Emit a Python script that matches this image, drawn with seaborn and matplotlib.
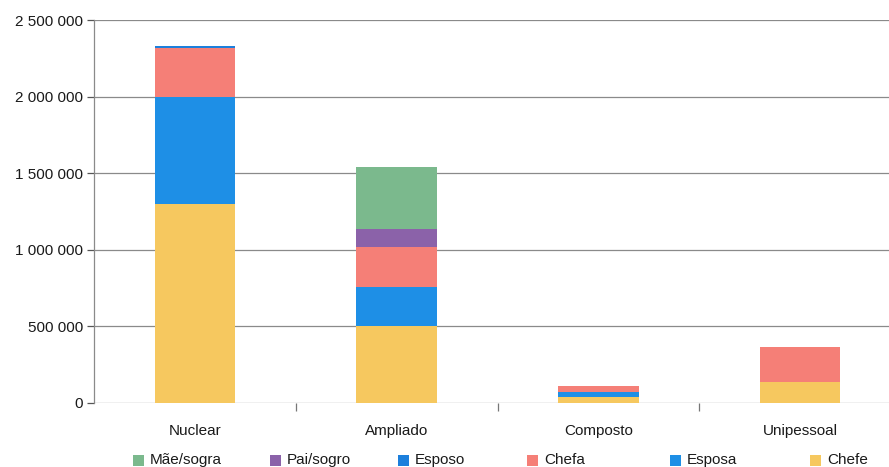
import matplotlib
matplotlib.use("Agg")
import matplotlib.pyplot as plt
import matplotlib.ticker as mticker
from matplotlib.patches import Rectangle
import numpy as np
import seaborn as sns

# Household types and the members counted in each (persons)
categories = ["Nuclear", "Ampliado", "Composto", "Unipessoal"]

chefe = [1300000, 503000, 41000, 139000]
esposa = [695000, 256000, 33000, 0]
chefa = [322000, 257000, 37000, 229000]
esposo = [13000, 0, 0, 0]
pai_sogro = [0, 120000, 0, 0]
mae_sogra = [0, 406000, 0, 0]

series_names = ["Chefe", "Esposa", "Chefa", "Esposo", "Pai/sogro", "Mãe/sogra"]
series_values = [chefe, esposa, chefa, esposo, pai_sogro, mae_sogra]
series_colors = ["#f6c85f", "#1e8fe6", "#f57f77", "#1c7fdc", "#8b62a9", "#7bb98d"]

sns.set_theme(style="white")
plt.rcParams["font.family"] = ["Liberation Sans", "DejaVu Sans"]

W, H = 889, 467
fig = plt.figure(figsize=(W / 100, H / 100), dpi=100)
# the plotting area runs slightly past the right edge of the figure
ax = fig.add_axes([94 / W, 1 - 403 / H, 807 / W, 383 / H])

bottom = np.zeros(len(categories))
for name, vals, col in zip(series_names, series_values, series_colors):
    vals = np.array(vals, dtype=float)
    sns.barplot(x=categories, y=vals, bottom=bottom, color=col, width=0.4,
                ax=ax, saturation=1, linewidth=0, zorder=3)
    bottom += vals

ax.set_xlim(-0.5, 3.5)
ax.set_ylim(0, 2500000)
ax.set_yticks(np.arange(0, 2500001, 500000))
ax.yaxis.set_major_formatter(
    mticker.FuncFormatter(lambda v, p: f"{int(v):,}".replace(",", " ")))
ax.grid(axis="y", color="#8a8a8a", linewidth=0.9, zorder=0)
ax.set_axisbelow(True)

for side in ["top", "right", "bottom"]:
    ax.spines[side].set_visible(False)
ax.spines["left"].set_color("#8a8a8a")
ax.spines["left"].set_linewidth(0.9)

ax.tick_params(axis="y", which="major", left=True, length=5, width=0.9,
               color="#555555", labelsize=11, labelcolor="#1a1a1a", pad=3)
ax.set_xticks([0, 1, 2, 3])
ax.set_xticklabels(categories)
ax.tick_params(axis="x", which="major", bottom=False, labelsize=11,
               labelcolor="#1a1a1a", pad=9)
ax.set_xticks([0.5, 1.5, 2.5], minor=True)
ax.tick_params(axis="x", which="minor", bottom=True, length=6, width=0.9,
               color="#777777")
ax.set_xlabel("")
ax.set_ylabel("")

# legend along the bottom edge, newest relation first
legend_names = series_names[::-1]
legend_colors = series_colors[::-1]
legend_x = [133, 270, 398, 527, 670, 810]
legend_y = 460
sq = 11
for x, name, col in zip(legend_x, legend_names, legend_colors):
    fig.patches.append(Rectangle((x / W, 1 - (legend_y + sq / 2) / H), sq / W, sq / H,
                                 transform=fig.transFigure, facecolor=col,
                                 edgecolor="none"))
    fig.text((x + sq + 6) / W, 1 - legend_y / H, name, fontsize=11,
             color="#1a1a1a", ha="left", va="center")

fig.savefig("out.png", dpi=100, facecolor="white")
